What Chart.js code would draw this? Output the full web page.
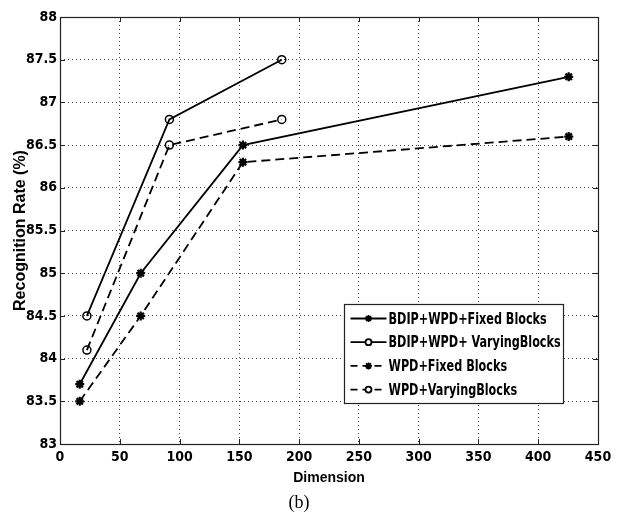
<!DOCTYPE html>
<html>
<head>
<meta charset="utf-8">
<script src="https://cdn.jsdelivr.net/npm/chart.js@4/dist/chart.umd.min.js"></script>
<style>
  html, body { margin: 0; padding: 0; background: #fff; }
  #wrap { width: 620px; height: 524px; }
</style>
</head>
<body>
<div id="wrap"><canvas id="chart" width="620" height="524"></canvas></div>
<script>
// ----- data -----
const fixedDims   = [16.5, 67.5, 153, 425.5];
const varyingDims = [22.5, 91.5, 185.5];

const bdipFixed   = [83.7, 85.0, 86.5, 87.3];
const bdipVarying = [84.5, 86.8, 87.5];
const wpdFixed    = [83.5, 84.5, 86.3, 86.6];
const wpdVarying  = [84.1, 86.5, 86.8];

const seriesLabels = [
  "BDIP+WPD+Fixed Blocks",
  "BDIP+WPD+ VaryingBlocks",
  "WPD+Fixed Blocks",
  "WPD+VaryingBlocks",
];

const xTitle = "Dimension";
const yTitle = "Recognition Rate (%)";
const caption = "(b)";

const NARROW = "'Liberation Sans Narrow', 'Arial Narrow', 'DejaVu Sans Condensed', sans-serif";
const SANS = "'Liberation Sans', Arial, sans-serif";
const SERIF = "'Liberation Serif', 'Times New Roman', serif";
const INK = "#000";
const DASH = [9, 5];

const pts = (xs, ys) => xs.map((x, i) => ({ x, y: ys[i] }));

function series(label, xs, ys, marker, dashed) {
  return {
    label,
    data: pts(xs, ys),
    showLine: true,
    borderColor: INK,
    backgroundColor: "transparent",
    borderWidth: 1.8,
    borderDash: dashed ? DASH : [],
    pointStyle: marker,
    pointRadius: marker === "star" ? 4.5 : 4,
    pointBorderWidth: marker === "star" ? 2.2 : 1.5,
    pointBorderColor: INK,
    pointBackgroundColor: "transparent",
  };
}

// ----- matlab-like frame, inside ticks, boxed legend -----
const framePlugin = {
  id: "frame",
  afterDraw(chart) {
    const { ctx, chartArea: a, scales } = chart;
    ctx.save();
    ctx.strokeStyle = "#222";
    ctx.lineWidth = 1;
    ctx.setLineDash([]);
    // tick marks pointing inward
    const t = 5;
    ctx.beginPath();
    scales.x.ticks.forEach((tk, i) => {
      const px = Math.round(scales.x.getPixelForTick(i)) + 0.5;
      ctx.moveTo(px, a.bottom); ctx.lineTo(px, a.bottom - t);
      ctx.moveTo(px, a.top); ctx.lineTo(px, a.top + t);
    });
    scales.y.ticks.forEach((tk, i) => {
      const py = Math.round(scales.y.getPixelForTick(i)) + 0.5;
      ctx.moveTo(a.left, py); ctx.lineTo(a.left + t, py);
      ctx.moveTo(a.right, py); ctx.lineTo(a.right - t, py);
    });
    ctx.stroke();
    ctx.lineWidth = 1.2;
    ctx.strokeRect(Math.round(a.left) + 0.5, Math.round(a.top) + 0.5,
                   Math.round(a.right - a.left), Math.round(a.bottom - a.top));

    // legend box (lower right, inside axes)
    const bw = 219, bh = 99;
    const bx = Math.round(a.right - 35 - bw) + 0.5;
    const by = Math.round(a.bottom - 41 - bh) + 0.5;
    ctx.fillStyle = "#fff";
    ctx.fillRect(bx, by, bw, bh);
    ctx.lineWidth = 1.2;
    ctx.strokeStyle = "#222";
    ctx.strokeRect(bx, by, bw, bh);

    ctx.font = "bold 16px " + NARROW;
    ctx.textBaseline = "middle";
    chart.data.datasets.forEach((ds, i) => {
      const y = by + 14 + i * 23.7;
      const x0 = bx + 6, x1 = bx + 42;
      ctx.strokeStyle = INK;
      ctx.lineWidth = ds.borderWidth;
      ctx.setLineDash(ds.borderDash.length ? [7, 5] : []);
      ctx.beginPath();
      ctx.moveTo(x0, y); ctx.lineTo(x1, y);
      ctx.stroke();
      ctx.setLineDash([]);
      ctx.fillStyle = "#fff";
      Chart.helpers.drawPoint(ctx, {
        pointStyle: ds.pointStyle,
        radius: ds.pointStyle === "star" ? 3.5 : 3,
        borderWidth: ds.pointStyle === "star" ? 2 : 1.3,
        rotation: 0,
      }, (x0 + x1) / 2, y);
      // squeeze the text horizontally to mimic the narrow face
      const natural = ctx.measureText(ds.label).width;
      const target = natural * 0.78;
      ctx.save();
      ctx.translate(x1 + 2, y + 1);
      ctx.scale(target / natural, 1);
      ctx.fillStyle = INK;
      ctx.fillText(ds.label, 0, 0);
      ctx.restore();
    });
    ctx.restore();
  },
};

const tickFont = { family: NARROW, size: 14, weight: "bold" };

new Chart(document.getElementById("chart"), {
  type: "scatter",
  data: {
    datasets: [
      series(seriesLabels[0], fixedDims, bdipFixed, "star", false),
      series(seriesLabels[1], varyingDims, bdipVarying, "circle", false),
      series(seriesLabels[2], fixedDims, wpdFixed, "star", true),
      series(seriesLabels[3], varyingDims, wpdVarying, "circle", true),
    ],
  },
  options: {
    responsive: false,
    animation: false,
    layout: { padding: { top: 17, right: 22, left: 0, bottom: 0 } },
    scales: {
      x: {
        type: "linear",
        min: 0, max: 450,
        ticks: { stepSize: 50, color: INK, padding: 5, font: tickFont },
        grid: { color: "#444", lineWidth: 1, drawTicks: false },
        border: { display: false, dash: [1, 3] },
        title: { display: true, text: xTitle, color: INK,
                 font: { family: SANS, size: 14, weight: "bold" },
                 padding: { top: 2, bottom: 6 } },
        afterFit: (s) => { s.height = 48.4; },
      },
      y: {
        type: "linear",
        min: 83, max: 88,
        ticks: { stepSize: 0.5, color: INK, padding: 3, font: tickFont,
                 callback: (v) => String(+v.toFixed(1)) },
        grid: { color: "#444", lineWidth: 1, drawTicks: false },
        border: { display: false, dash: [1, 3] },
        title: { display: true, text: yTitle, color: INK,
                 font: { family: SANS, size: 16, weight: "bold" },
                 padding: { top: 10.5, bottom: 0 } },
        afterFit: (s) => { s.width = 60; },
      },
    },
    plugins: {
      legend: { display: false },
      tooltip: { enabled: false },
      title: {
        display: true, position: "bottom", text: caption, color: INK,
        font: { family: SERIF, size: 18, weight: "normal" },
        padding: { top: 0, bottom: 10 },
      },
    },
  },
  plugins: [framePlugin],
});
</script>
</body>
</html>
